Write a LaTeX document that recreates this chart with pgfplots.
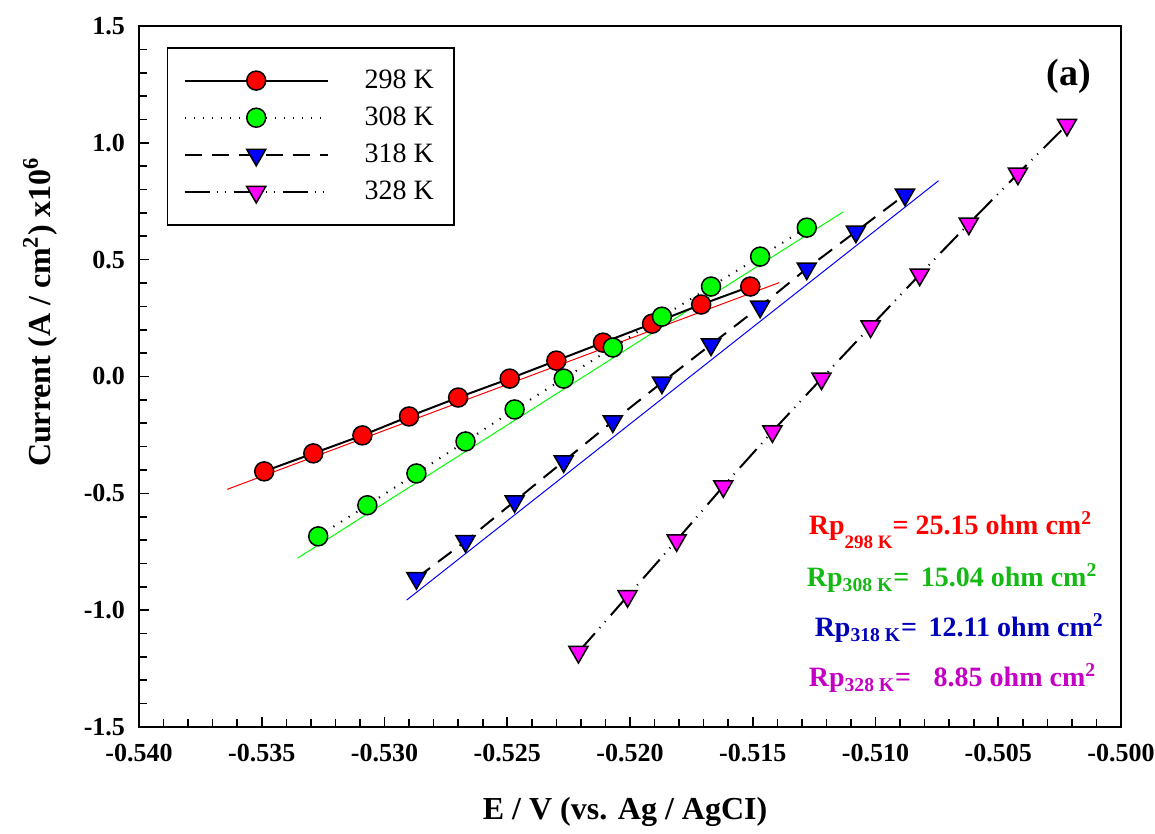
\documentclass[border=0pt]{standalone}
\usepackage{pgfplots}
\pgfplotsset{compat=1.18}
\usepackage{fontspec}
\setmainfont{Liberation Serif}
\definecolor{txtgreen}{RGB}{20,185,20}
\definecolor{txtblue}{RGB}{0,0,185}
\definecolor{txtmag}{RGB}{195,0,195}
\definecolor{mred}{RGB}{255,0,0}
\definecolor{mgreen}{RGB}{0,255,0}
\definecolor{mblue}{RGB}{0,0,255}
\definecolor{mmag}{RGB}{255,0,255}
\begin{document}
\begin{tikzpicture}
\useasboundingbox (-69.5pt,-53.5pt) rectangle (508pt,363.5pt);
\begin{axis}[
  scale only axis, width=491pt, height=350.5pt,
  xmin=-0.540, xmax=-0.500, ymin=-1.5, ymax=1.5,
  axis line style={line width=1pt},
  xtick={-0.54,-0.535,-0.53,-0.525,-0.52,-0.515,-0.51,-0.505,-0.5},
  ytick={-1.5,-1,-0.5,0,0.5,1,1.5},
  minor x tick num=4, minor y tick num=4,
  tick align=inside, xtick pos=bottom, ytick pos=left,
  major tick length=5pt, minor tick length=4pt,
  tick style={line width=0.8pt, black},
  scaled ticks=false,
  xticklabel style={yshift=-5pt, /pgf/number format/.cd, fixed, fixed zerofill, precision=3, assume math mode=true},
  yticklabel style={xshift=-3.5pt, /pgf/number format/.cd, fixed, fixed zerofill, precision=1, assume math mode=true},
  tick label style={font=\bfseries\fontsize{13}{14}\selectfont},
  xlabel={E / V (vs. Ag / AgCI)},
  ylabel={Current (A / cm\textsuperscript{2}) x10\textsuperscript{6}},
  label style={font=\bfseries\fontsize{16}{18}\selectfont},
  xlabel style={at={(axis description cs:0.495,-0.1214)}, anchor=center},
  ylabel style={at={(axis description cs:-0.1008,0.592)}, anchor=center},
  clip=false,
  legend style={at={(axis description cs:0.0285,0.970)}, anchor=north west,
    draw=black, line width=0.75pt, font=\fontsize{14}{15}\selectfont,
    inner xsep=8pt, inner ysep=9pt, row sep=3.75pt,
    /tikz/every odd column/.append style={column sep=16pt},
    cells={anchor=west}},
  legend image code/.code={\draw[mark repeat=2,mark phase=2,#1] plot coordinates {(0pt,0pt) (35.75pt,0pt) (71.5pt,0pt)};},
]
% fitted lines
\addplot[forget plot, mred, line width=0.5pt] coordinates {(-0.53641,-0.483) (-0.51392,0.402)};
\addplot[forget plot, mgreen, line width=0.5pt] coordinates {(-0.53355,-0.778) (-0.51131,0.705)};
\addplot[forget plot, mblue, line width=0.5pt] coordinates {(-0.52910,-0.957) (-0.50743,0.838)};

\addplot[black, line width=1pt, mark=*, mark size=4.75pt,
  mark options={solid, fill=mred, draw=black, line width=0.75pt}] coordinates {
  (-0.5349,-0.406) (-0.5329,-0.329) (-0.5309,-0.252) (-0.5290,-0.171)
  (-0.5270,-0.090) (-0.5249,-0.009) (-0.5230,0.068) (-0.5211,0.145)
  (-0.5191,0.226) (-0.5171,0.308) (-0.5151,0.385)};
\addlegendentry{298 K}
\addplot[black, line width=1pt, dash pattern=on 0.6pt off 3.9pt, mark=*, mark size=4.75pt,
  mark options={solid, fill=mgreen, draw=black, line width=0.75pt}] coordinates {
  (-0.5327,-0.684) (-0.5307,-0.551) (-0.5287,-0.415) (-0.5267,-0.278)
  (-0.5247,-0.141) (-0.5227,-0.009) (-0.5207,0.124) (-0.5187,0.256)
  (-0.5167,0.385) (-0.5147,0.513) (-0.5128,0.637)};
\addlegendentry{308 K}
\addplot[black, line width=1pt, dash pattern=on 8.5pt off 5pt, mark=triangle*, mark size=5.5pt,
  mark options={solid, rotate=180, fill=mblue, draw=black, line width=0.75pt}] coordinates {
  (-0.5287,-0.863) (-0.5267,-0.705) (-0.5247,-0.534) (-0.5227,-0.363)
  (-0.5207,-0.192) (-0.5187,-0.026) (-0.5167,0.137) (-0.5147,0.299)
  (-0.5128,0.462) (-0.5108,0.620) (-0.5088,0.778)};
\addlegendentry{318 K}
\addplot[black, line width=1pt, dash pattern=on 12.5pt off 3.5pt on 0.5pt off 3.5pt on 0.5pt off 4pt, mark=triangle*, mark size=5.5pt,
  mark options={solid, rotate=180, fill=mmag, draw=black, line width=0.75pt}] coordinates {
  (-0.5221,-1.179) (-0.5201,-0.940) (-0.5181,-0.701) (-0.5162,-0.470)
  (-0.5142,-0.235) (-0.5122,-0.009) (-0.5102,0.214) (-0.5082,0.436)
  (-0.5062,0.654) (-0.5042,0.868) (-0.5022,1.077)};
\addlegendentry{328 K}

\node[font=\bfseries\fontsize{19}{20}\selectfont] at (axis cs:-0.50212,1.286) {(a)};
\node[anchor=west, text=mred, font=\bfseries\fontsize{14}{16}\selectfont, inner sep=0pt] at (axis cs:-0.51273,-0.658)
  {Rp\raisebox{-1.1ex}{\fontsize{9.5}{10}\selectfont 298 K}= 25.15 ohm cm\textsuperscript{2}};
\node[anchor=west, text=txtgreen, font=\bfseries\fontsize{14}{16}\selectfont, inner sep=0pt] at (axis cs:-0.51281,-0.863)
  {Rp\textsubscript{308 K}= \,15.04 ohm cm\textsuperscript{2}};
\node[anchor=west, text=txtblue, font=\bfseries\fontsize{14}{16}\selectfont, inner sep=0pt] at (axis cs:-0.51249,-1.077)
  {Rp\textsubscript{318 K}= \,12.11 ohm cm\textsuperscript{2}};
\node[anchor=west, text=txtmag, font=\bfseries\fontsize{14}{16}\selectfont, inner sep=0pt] at (axis cs:-0.51273,-1.291)
  {Rp\textsubscript{328 K}= \;\;8.85 ohm cm\textsuperscript{2}};
\end{axis}
\end{tikzpicture}
\end{document}
